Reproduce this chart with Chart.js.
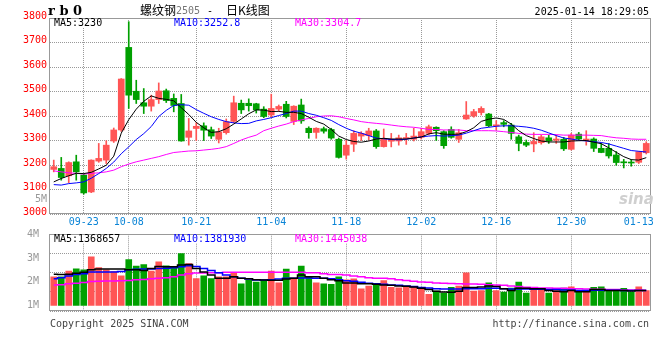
<!DOCTYPE html>
<html lang="zh-CN">
<head>
<meta charset="utf-8">
<title>螺纹钢2505 日K线图</title>
<script src="https://cdn.jsdelivr.net/npm/chart.js@4.4.1/dist/chart.umd.min.js"></script>
<style>
  html, body { margin: 0; padding: 0; background: #fff; }
  #cadre { position: relative; width: 660px; height: 360px; overflow: hidden;
           font-family: 'DejaVu Sans Mono', monospace; font-size: 10px; color: #000; }
  canvas { position: absolute; left: 0; }
  #graphe-prix { top: 0; }
  #graphe-volume { top: 224px; }
  .texte { position: absolute; line-height: 12px; white-space: pre; }
  .legende { position: absolute; line-height: 8px; white-space: pre; background: #fff; }
  .cjk { font-family: 'Noto Sans CJK SC', sans-serif; font-size: 12px; }
</style>
</head>
<body>
<div id="cadre">
  <canvas id="graphe-prix" width="660" height="230"></canvas>
  <canvas id="graphe-volume" width="660" height="96"></canvas>

  <div class="texte" style="left:48px; top:5px; font-family:'DejaVu Serif',serif; font-weight:bold; font-size:13px;">r b 0</div>
  <div class="texte cjk" style="left:140px; top:4px;">螺纹钢</div>
  <div class="texte" style="left:176px; top:5px; color:#777;">2505</div>
  <div class="texte" style="left:207px; top:5px;">-</div>
  <div class="texte cjk" style="left:226px; top:4px;">日K线图</div>
  <div class="texte" style="right:11px; top:6px;">2025-01-14 18:29:05</div>

  <div class="legende" style="left:54px; top:19px;">MA5:3230</div>
  <div class="legende" style="left:174px; top:19px; color:#0000ff;">MA10:3252.8</div>
  <div class="legende" style="left:295px; top:19px; color:#ff00ff;">MA30:3304.7</div>

  <div class="texte" style="left:0; width:47px; text-align:right; top:193px; color:#999;">5M</div>

  <div class="texte" style="left:619px; top:193px; font-family:'DejaVu Sans',sans-serif; font-weight:bold; font-style:italic; font-size:15px; color:#cfcfcf;">sina</div>

  <div class="legende" style="left:54px; top:235px;">MA5:1368657</div>
  <div class="legende" style="left:174px; top:235px; color:#0000ff;">MA10:1381930</div>
  <div class="legende" style="left:295px; top:235px; color:#ff00ff;">MA30:1445038</div>

  <div class="texte" style="left:50px; top:318px; color:#444;">Copyright 2025 SINA.COM</div>
  <div class="texte" style="right:11px; top:318px; color:#444;">http://finance.sina.com.cn</div>
</div>

<script>
'use strict';

/* === DONNÉES === */
const DATES = [
  '09-13', '09-18', '09-19', '09-20', '09-23', '09-24', '09-25', '09-26', '09-27', '09-30',
  '10-08', '10-09', '10-10', '10-11', '10-14', '10-15', '10-16', '10-17', '10-18', '10-21',
  '10-22', '10-23', '10-24', '10-25', '10-28', '10-29', '10-30', '10-31', '11-01', '11-04',
  '11-05', '11-06', '11-07', '11-08', '11-11', '11-12', '11-13', '11-14', '11-15', '11-18',
  '11-19', '11-20', '11-21', '11-22', '11-25', '11-26', '11-27', '11-28', '11-29', '12-02',
  '12-03', '12-04', '12-05', '12-06', '12-09', '12-10', '12-11', '12-12', '12-13', '12-16',
  '12-17', '12-18', '12-19', '12-20', '12-23', '12-24', '12-25', '12-26', '12-27', '12-30',
  '12-31', '01-02', '01-03', '01-06', '01-07', '01-08', '01-09', '01-10', '01-13', '01-14'
];

const DATES_AFFICHEES = ['09-23', '10-08', '10-21', '11-04', '11-18', '12-02', '12-16', '12-30', '01-13'];

const OUVERTURES = [
  3182, 3186, 3156, 3213, 3159, 3090, 3216, 3220, 3298, 3343,
  3680, 3501, 3454, 3440, 3467, 3503, 3472, 3451, 3313, 3349,
  3360, 3344, 3305, 3332, 3378, 3452, 3452, 3450, 3428, 3404,
  3428, 3448, 3378, 3445, 3350, 3333, 3348, 3345, 3305, 3240,
  3285, 3318, 3320, 3339, 3275, 3297, 3298, 3308, 3305, 3313,
  3329, 3354, 3336, 3345, 3305, 3388, 3400, 3414, 3408, 3360,
  3373, 3363, 3315, 3292, 3286, 3291, 3311, 3301, 3305, 3264,
  3326, 3300, 3306, 3268, 3268, 3241, 3213, 3212, 3211, 3250
];

const PLUS_HAUTS = [
  3220, 3231, 3213, 3240, 3163, 3221, 3288, 3299, 3351, 3553,
  3785, 3546, 3512, 3485, 3535, 3510, 3490, 3488, 3390, 3373,
  3372, 3355, 3350, 3388, 3481, 3465, 3470, 3452, 3438, 3489,
  3445, 3460, 3442, 3469, 3356, 3352, 3355, 3350, 3310, 3300,
  3340, 3336, 3350, 3345, 3347, 3329, 3322, 3329, 3350, 3350,
  3363, 3356, 3340, 3356, 3345, 3459, 3427, 3438, 3411, 3381,
  3381, 3370, 3322, 3302, 3332, 3322, 3322, 3322, 3313, 3329,
  3333, 3340, 3311, 3288, 3288, 3255, 3223, 3222, 3255, 3295
];

const PLUS_BAS = [
  3172, 3138, 3128, 3138, 3081, 3087, 3211, 3206, 3292, 3337,
  3431, 3451, 3410, 3420, 3451, 3455, 3417, 3297, 3281, 3300,
  3300, 3308, 3290, 3326, 3372, 3410, 3420, 3412, 3393, 3395,
  3420, 3392, 3365, 3370, 3309, 3309, 3330, 3305, 3228, 3224,
  3255, 3300, 3302, 3268, 3273, 3274, 3281, 3284, 3298, 3306,
  3323, 3300, 3268, 3309, 3292, 3386, 3395, 3404, 3356, 3343,
  3356, 3305, 3258, 3275, 3254, 3285, 3288, 3288, 3259, 3261,
  3302, 3281, 3255, 3250, 3228, 3199, 3188, 3195, 3206, 3245
];

const CLOTURES = [
  3193, 3149, 3210, 3172, 3086, 3220, 3227, 3281, 3343, 3551,
  3485, 3467, 3440, 3467, 3502, 3463, 3443, 3298, 3339, 3358,
  3342, 3318, 3335, 3377, 3454, 3425, 3442, 3425, 3398, 3431,
  3439, 3398, 3440, 3380, 3332, 3350, 3338, 3310, 3231, 3281,
  3329, 3329, 3339, 3275, 3305, 3305, 3311, 3312, 3318, 3336,
  3356, 3340, 3279, 3313, 3332, 3404, 3418, 3431, 3360, 3363,
  3366, 3329, 3288, 3281, 3296, 3315, 3298, 3306, 3266, 3322,
  3306, 3306, 3268, 3251, 3237, 3210, 3209, 3208, 3254, 3288
];

const MM5 = [
  3131, 3145, 3156, 3166, 3165, 3170, 3184, 3199, 3236, 3330,
  3385, 3428, 3460, 3482, 3472, 3468, 3462, 3434, 3406, 3374,
  3352, 3333, 3336, 3348, 3367, 3388, 3409, 3425, 3424, 3418,
  3419, 3415, 3415, 3410, 3395, 3378, 3367, 3345, 3318, 3304,
  3296, 3293, 3298, 3306, 3309, 3306, 3306, 3306, 3310, 3314,
  3327, 3332, 3326, 3325, 3326, 3336, 3352, 3378, 3387, 3392,
  3386, 3367, 3340, 3320, 3308, 3298, 3294, 3294, 3294, 3298,
  3299, 3300, 3293, 3287, 3270, 3252, 3234, 3222, 3220, 3230
];

const MM10 = [
  3120, 3118, 3124, 3127, 3131, 3146, 3165, 3186, 3212, 3246,
  3274, 3304, 3328, 3357, 3398, 3423, 3443, 3446, 3444, 3426,
  3411, 3397, 3386, 3377, 3372, 3369, 3370, 3380, 3386, 3393,
  3402, 3410, 3420, 3420, 3410, 3403, 3393, 3382, 3365, 3350,
  3338, 3330, 3320, 3310, 3307, 3304, 3303, 3305, 3310, 3315,
  3318, 3320, 3318, 3320, 3322, 3330, 3340, 3350, 3354, 3358,
  3360, 3360, 3358, 3355, 3350, 3342, 3331, 3320, 3310, 3306,
  3301, 3298, 3295, 3292, 3286, 3277, 3268, 3259, 3256, 3253
];

const MM30 = [
  3176, 3172, 3168, 3166, 3163, 3166, 3168, 3172, 3179, 3193,
  3204, 3213, 3220, 3227, 3234, 3243, 3251, 3254, 3257, 3258,
  3261, 3264, 3268, 3275, 3288, 3302, 3313, 3322, 3340, 3350,
  3359, 3367, 3377, 3384, 3390, 3397, 3400, 3401, 3397, 3390,
  3384, 3377, 3373, 3370, 3367, 3363, 3359, 3356, 3354, 3350,
  3345, 3345, 3343, 3343, 3343, 3340, 3340, 3340, 3340, 3339,
  3336, 3333, 3329, 3326, 3325, 3325, 3325, 3324, 3322, 3322,
  3322, 3322, 3321, 3320, 3315, 3311, 3309, 3306, 3305, 3305
];

const VOLUMES = [
  2.21, 2.21, 2.45, 2.54, 2.50, 3.05, 2.60, 2.50, 2.43, 2.25,
  2.93, 2.66, 2.72, 2.45, 2.84, 2.67, 2.60, 3.19, 2.76, 2.13,
  2.25, 2.13, 2.21, 2.21, 2.38, 1.91, 2.07, 1.98, 2.08, 2.45,
  1.95, 2.53, 2.15, 2.66, 2.21, 1.95, 1.91, 1.89, 2.21, 2.08,
  2.12, 1.70, 1.82, 1.89, 2.05, 1.76, 1.74, 1.78, 1.78, 1.70,
  1.47, 1.60, 1.52, 1.76, 1.82, 2.38, 1.60, 1.63, 1.95, 1.63,
  1.56, 1.73, 1.98, 1.52, 1.73, 1.65, 1.52, 1.63, 1.73, 1.78,
  1.56, 1.60, 1.76, 1.78, 1.65, 1.65, 1.72, 1.56, 1.78, 1.63
];

const VOL_MM5 = [
  2.32, 2.30, 2.32, 2.36, 2.40, 2.50, 2.54, 2.54, 2.54, 2.54,
  2.51, 2.51, 2.47, 2.56, 2.64, 2.63, 2.63, 2.71, 2.73, 2.56,
  2.41, 2.28, 2.15, 2.15, 2.21, 2.15, 2.12, 2.08, 2.07, 2.06,
  2.06, 2.11, 2.15, 2.28, 2.21, 2.21, 2.15, 2.08, 2.04, 1.95,
  1.95, 1.91, 1.91, 1.89, 1.86, 1.85, 1.82, 1.81, 1.78, 1.72,
  1.67, 1.60, 1.57, 1.56, 1.60, 1.76, 1.76, 1.78, 1.82, 1.80,
  1.70, 1.63, 1.72, 1.72, 1.70, 1.70, 1.63, 1.60, 1.58, 1.63,
  1.58, 1.58, 1.67, 1.67, 1.63, 1.63, 1.63, 1.61, 1.63, 1.63
];

const VOL_MM10 = [
  2.12, 2.17, 2.24, 2.30, 2.34, 2.41, 2.41, 2.41, 2.41, 2.43,
  2.50, 2.53, 2.54, 2.54, 2.56, 2.57, 2.59, 2.63, 2.67, 2.64,
  2.56, 2.47, 2.38, 2.28, 2.21, 2.15, 2.11, 2.07, 2.07, 2.08,
  2.11, 2.15, 2.15, 2.16, 2.16, 2.15, 2.15, 2.12, 2.08, 2.04,
  2.02, 1.98, 1.94, 1.91, 1.89, 1.86, 1.85, 1.82, 1.80, 1.76,
  1.73, 1.70, 1.69, 1.69, 1.69, 1.70, 1.70, 1.70, 1.72, 1.72,
  1.70, 1.69, 1.69, 1.69, 1.68, 1.68, 1.67, 1.67, 1.65, 1.65,
  1.63, 1.63, 1.64, 1.64, 1.64, 1.64, 1.63, 1.63, 1.63, 1.63
];

const VOL_MM30 = [
  1.86, 1.87, 1.91, 1.94, 1.97, 2.01, 2.02, 2.03, 2.03, 2.04,
  2.05, 2.08, 2.09, 2.12, 2.15, 2.17, 2.21, 2.28, 2.34, 2.37,
  2.37, 2.38, 2.38, 2.40, 2.40, 2.40, 2.40, 2.40, 2.40, 2.40,
  2.40, 2.40, 2.40, 2.40, 2.38, 2.38, 2.34, 2.30, 2.30, 2.28,
  2.24, 2.21, 2.17, 2.15, 2.15, 2.12, 2.08, 2.05, 2.02, 1.99,
  1.98, 1.95, 1.94, 1.93, 1.91, 1.90, 1.90, 1.89, 1.87, 1.86,
  1.85, 1.82, 1.80, 1.77, 1.76, 1.74, 1.73, 1.72, 1.72, 1.70,
  1.70, 1.69, 1.68, 1.68, 1.67, 1.67, 1.65, 1.65, 1.65, 1.64
];

const GRADUATIONS_VOLUME = [1, 2, 3, 4];

/* === STYLES === */
const ROUGE = '#ff5555';
const VERT = '#00a000';
const GRIS_GRILLE = '#999999';
const GRIS_CADRE = '#999999';
const POINTILLES = [1, 1];
const TRANSPARENT = 'rgba(0,0,0,0)';
const POLICE = { family: "'DejaVu Sans Mono', monospace", size: 10 };

Chart.defaults.font = POLICE;

/* === HELPERS === */

function enPoints(valeurs) {
  return valeurs.map((v, i) => ({ x: i, y: v }));
}

const couleursBougies = CLOTURES.map((c, i) => (c >= OUVERTURES[i] ? ROUGE : VERT));
const positionsDates = DATES_AFFICHEES.map(d => DATES.indexOf(d));
const dernierePosition = positionsDates[positionsDates.length - 1];

function ligneMoyenne(valeurs, couleur, epaisseur, escalier) {
  return {
    type: 'line',
    data: enPoints(valeurs),
    borderColor: couleur,
    borderWidth: epaisseur,
    pointRadius: 0,
    tension: 0,
    stepped: escalier ? 'middle' : false,
    order: 0
  };
}

function axeDates(afficherLibelles, hauteur) {
  return {
    type: 'linear',
    min: -0.5,
    max: DATES.length - 0.5,
    offset: false,
    afterBuildTicks: axe => { axe.ticks = positionsDates.map(v => ({ value: v })); },
    afterFit: axe => { axe.height = hauteur; },
    ticks: {
      display: afficherLibelles,
      autoSkip: false,
      maxRotation: 0,
      padding: 2,
      color: '#0a84d6',
      callback: v => DATES[v]
    },
    grid: {
      display: true,
      drawOnChartArea: true,
      offset: false,
      drawTicks: false,
      lineWidth: 1,
      color: ctx => (ctx.tick && ctx.tick.value === dernierePosition ? TRANSPARENT : GRIS_GRILLE)
    },
    border: { display: false, dash: POINTILLES }
  };
}

// cadre gris autour de la zone de tracé
const pluginCadre = {
  id: 'cadre',
  afterDatasetsDraw(chart) {
    const { ctx, chartArea } = chart;
    const left = Math.round(chartArea.left);
    const right = Math.round(chartArea.right);
    const top = Math.round(chartArea.top);
    const bottom = Math.round(chartArea.bottom);
    ctx.save();
    ctx.strokeStyle = GRIS_CADRE;
    ctx.lineWidth = 1;
    ctx.setLineDash([]);
    ctx.strokeRect(left - 0.5, top + 0.5, right - left + 1, bottom - top - 1);
    ctx.restore();
  }
};

/* === GRAPHE DES PRIX === */

new Chart(document.getElementById('graphe-prix'), {
  type: 'bar',
  data: {
    datasets: [
      ligneMoyenne(MM5, '#000000', 1, false),
      ligneMoyenne(MM10, '#0000ff', 1, false),
      ligneMoyenne(MM30, '#ff00ff', 1, false),
      {
        label: 'corps',
        data: OUVERTURES.map((o, i) => ({ x: i, y: [o, CLOTURES[i]] })),
        backgroundColor: couleursBougies,
        barThickness: 6,
        minBarLength: 1,
        grouped: false,
        order: 1
      },
      {
        label: 'mèches',
        data: PLUS_BAS.map((b, i) => ({ x: i, y: [b, PLUS_HAUTS[i]] })),
        backgroundColor: couleursBougies,
        barThickness: 1,
        grouped: false,
        order: 2
      }
    ]
  },
  options: {
    responsive: false,
    animation: false,
    devicePixelRatio: 1,
    layout: { padding: { top: 18, right: 10, left: 0, bottom: 0 } },
    plugins: { legend: { display: false }, tooltip: { enabled: false } },
    scales: {
      x: axeDates(true, 16),
      y: {
        min: 3000,
        max: 3800,
        afterFit: axe => { axe.width = 50; },
        ticks: { stepSize: 100, color: '#ff0000', padding: 3, labelOffset: -2, callback: v => String(v) },
        grid: { display: true, drawOnChartArea: true, color: GRIS_GRILLE, lineWidth: 1, drawTicks: false },
        border: { display: false, dash: POINTILLES }
      }
    }
  },
  plugins: [pluginCadre]
});

/* === GRAPHE DES VOLUMES === */

new Chart(document.getElementById('graphe-volume'), {
  type: 'bar',
  data: {
    datasets: [
      ligneMoyenne(VOL_MM5, '#000000', 1.5, true),
      ligneMoyenne(VOL_MM10, '#0000ff', 1.5, true),
      ligneMoyenne(VOL_MM30, '#ff00ff', 1.5, true),
      {
        label: 'volume',
        data: enPoints(VOLUMES),
        base: 1,
        backgroundColor: couleursBougies,
        barThickness: 6,
        grouped: false,
        order: 1
      }
    ]
  },
  options: {
    responsive: false,
    animation: false,
    devicePixelRatio: 1,
    layout: { padding: { top: 10.3, right: 10, left: 0, bottom: 0 } },
    plugins: { legend: { display: false }, tooltip: { enabled: false } },
    scales: {
      x: axeDates(false, 3),
      y: {
        min: 0.765,
        max: 4,
        afterBuildTicks: axe => { axe.ticks = GRADUATIONS_VOLUME.map(v => ({ value: v })); },
        afterFit: axe => { axe.width = 50; },
        ticks: { color: '#999999', padding: 3, callback: v => v + 'M' },
        grid: { display: false },
        border: { display: false }
      },
      // axe muet qui découpe le panneau en quarts pour la grille
      quarts: {
        position: 'right',
        min: 0,
        max: 4,
        afterFit: axe => { axe.width = 0; },
        ticks: { display: false, stepSize: 1 },
        grid: { display: true, drawOnChartArea: true, color: GRIS_GRILLE, lineWidth: 1, drawTicks: false },
        border: { display: false, dash: POINTILLES }
      }
    }
  },
  plugins: [pluginCadre]
});
</script>
</body>
</html>
